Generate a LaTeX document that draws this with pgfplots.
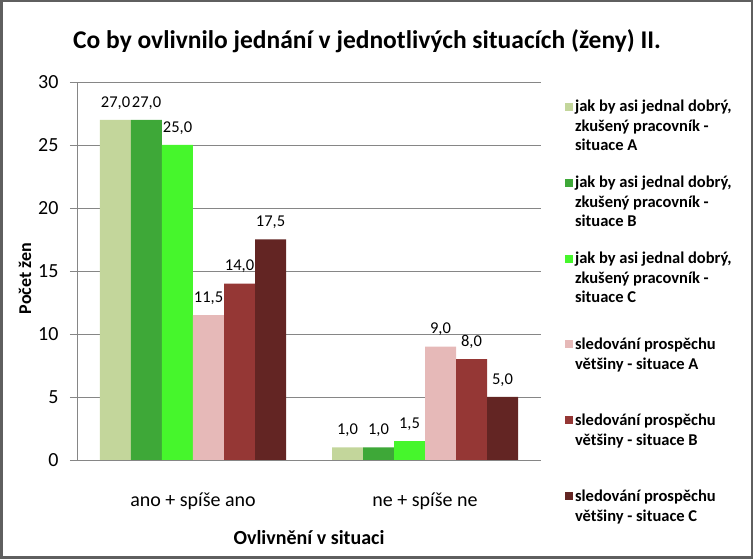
\documentclass[border=0pt]{standalone}
\usepackage{fontspec}
\setmainfont{Carlito}
\usepackage{pgfplots}
\pgfplotsset{compat=1.18}
\definecolor{gA}{HTML}{C3D69B}
\definecolor{gB}{HTML}{3EA838}
\definecolor{gC}{HTML}{46F62C}
\definecolor{rA}{HTML}{E6B9B8}
\definecolor{rB}{HTML}{953735}
\definecolor{rC}{HTML}{632523}
\definecolor{gridc}{HTML}{868686}
\definecolor{frame}{HTML}{5F5F5F}
% legend key: small square, lifted to the first text line
\pgfplotsset{sq/.style={legend image code/.code={%
  \path[fill=none,draw=none] (0pt,-#1pt-4pt) rectangle (8pt,#1pt+4pt);
  \fill[##1,draw=none] (0pt,#1pt-4pt) rectangle (8pt,#1pt+4pt);}}}

\begin{document}
\begin{tikzpicture}
\useasboundingbox (0pt,0pt) rectangle (753pt,559pt);
\draw[frame,line width=2.5pt] (1.25pt,1.25pt) rectangle (751.75pt,557.75pt);
\begin{axis}[
  at={(77pt,99pt)},anchor=south west,
  scale only axis,width=464pt,height=378pt,
  xmin=-0.5,xmax=1.5,ymin=0,ymax=30,
  ybar=0pt,bar width=31pt,
  xtick={0,1},xticklabels={ano + spíše ano,ne + spíše ne},
  ytick={0,5,...,30},
  axis x line*=bottom,axis y line*=left,
  axis line style={draw=gridc,-},
  ymajorgrids,grid style={draw=gridc},
  xtick style={draw=none},
  ytick style={draw=gridc},
  tick align=outside,major tick length=7pt,
  tick label style={font=\fontsize{20}{24}\selectfont},
  /pgf/number format/assume math mode=true,
  xticklabel style={yshift=-22pt},
  yticklabel style={xshift=-8pt},
  title={Co by ovlivnilo jednání v jednotlivých situacích (ženy) II.},
  title style={font=\bfseries\fontsize{25.5}{30}\selectfont,at={(axis description cs:0.625,1.093)},anchor=center},
  xlabel={Ovlivnění v situaci},
  xlabel style={font=\bfseries\fontsize{20}{24}\selectfont,at={(axis description cs:0.5,-0.204)},anchor=center},
  ylabel={Počet žen},
  ylabel style={font=\bfseries\fontsize{18}{22}\selectfont,at={(axis description cs:-0.112,0.48)},anchor=center},
  nodes near coords,
  nodes near coords style={font=\fontsize{16.5}{19}\selectfont,yshift=7pt,
    /pgf/number format/.cd,fixed,fixed zerofill,precision=1,use comma,assume math mode=true},
  legend cell align=left,
  legend style={draw=none,fill=none,at={(axis description cs:1.045,0.989)},anchor=north west,
    row sep=0pt,column sep=2pt,
    nodes={align=left,minimum height=76pt,inner sep=0pt,font=\bfseries\fontsize{16.5}{19.5}\selectfont}},
]
\addplot[fill=gA,draw=none,sq=19] coordinates {(0,27.0) (1,1.0)};
\addlegendentry{jak by asi jednal dobrý,\\zkušený pracovník -\\situace A}
\addplot[fill=gB,draw=none,sq=19] coordinates {(0,27.0) (1,1.0)};
\addlegendentry{jak by asi jednal dobrý,\\zkušený pracovník -\\situace B}
\addplot[fill=gC,draw=none,sq=19] coordinates {(0,25.0) (1,1.5)};
\addlegendentry{jak by asi jednal dobrý,\\zkušený pracovník -\\situace C}
\addplot[fill=rA,draw=none,sq=10] coordinates {(0,11.5) (1,9.0)};
\addlegendentry{sledování prospěchu\\většiny - situace A}
\addplot[fill=rB,draw=none,sq=10] coordinates {(0,14.0) (1,8.0)};
\addlegendentry{sledování prospěchu\\většiny - situace B}
\addplot[fill=rC,draw=none,sq=10] coordinates {(0,17.5) (1,5.0)};
\addlegendentry{sledování prospěchu\\většiny - situace C}
\end{axis}
\end{tikzpicture}
\end{document}
